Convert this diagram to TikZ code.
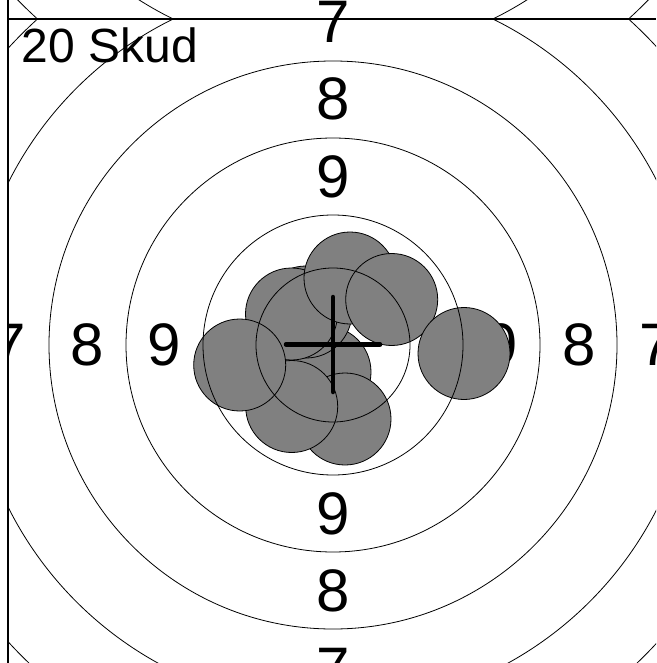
\documentclass[tikz,border=0pt]{standalone}
\usepackage{fontspec}
\setmainfont{Liberation Sans}
\begin{document}
\begin{tikzpicture}[x=1pt,y=-1pt,
  ring/.style={draw=black,line width=0.8pt},
  shot/.style={draw=black,fill=black!50,line width=0.8pt},
  lbl/.style={inner sep=0pt,font=\fontsize{60}{72}\selectfont},
  border/.style={draw=black,line width=1.2pt},
  crossarm/.style={draw=black,line width=4.5pt,line cap=round}]
\useasboundingbox (0,0) rectangle (656,663);
\coordinate (c) at (333,345);
\coordinate (u) at (333,-307);
\begin{scope}
\clip (8,0) rectangle (656,663);
% ring labels
\node[lbl] (t7) at (333,21.5) {7};
\node[lbl] (t8) at (333,99) {8};
\node[lbl] (t9) at (333,176.5) {9};
\node[lbl] (b9) at (333,513.5) {9};
\node[lbl] (b8) at (333,591) {8};
\node[lbl] (b7) at (333,668.5) {7};
\node[lbl] (l9) at (164.5,345) {9};
\node[lbl] (l8) at (87,345) {8};
\node[lbl] (l7) at (9.5,345) {7};
\node[lbl] (r9) at (501.5,345) {9};
\node[lbl] (r8) at (579,345) {8};
\node[lbl] (r7) at (656.5,345) {7};
% shots
\draw[shot] (325,372) circle (46);
\draw[shot] (345,419) circle (46);
\draw[shot] (291.7,406.5) circle (46);
\draw[shot] (306,312) circle (46);
\draw[shot] (291.5,314) circle (46);
\draw[shot] (350,278) circle (46);
\draw[shot] (391.7,299.5) circle (46);
\draw[shot] (239.7,365) circle (46);
\draw[shot] (464,353.5) circle (46);
% rings of this target
\begin{scope}
\clip (8,19) rectangle (656,663);
\foreach \r in {77,130,207,284,363,440} \draw[ring] (c) circle (\r);
\end{scope}
% rings of the target above
\begin{scope}
\clip (8,0) rectangle (656,19);
\foreach \r in {363,440} \draw[ring] (u) circle (\r);
\end{scope}
\end{scope}
% borders
\coordinate (tl) at (8,19);
\coordinate (tr) at (656,19);
\coordinate (lt) at (8,0);
\coordinate (lb) at (8,663);
\draw[border] (tl) -- (tr);
\draw[border] (lt) -- (lb);
% aiming cross
\coordinate (hl) at (286,344.5);
\coordinate (hr) at (380,344.5);
\coordinate (vt) at (333,297);
\coordinate (vb) at (333,392);
\draw[crossarm] (hl) -- (hr);
\draw[crossarm] (vt) -- (vb);
% title
\node[anchor=base west,inner sep=0pt,font=\fontsize{48}{58}\selectfont] (title) at (21.5,63) {20 Skud};
\end{tikzpicture}
\end{document}
